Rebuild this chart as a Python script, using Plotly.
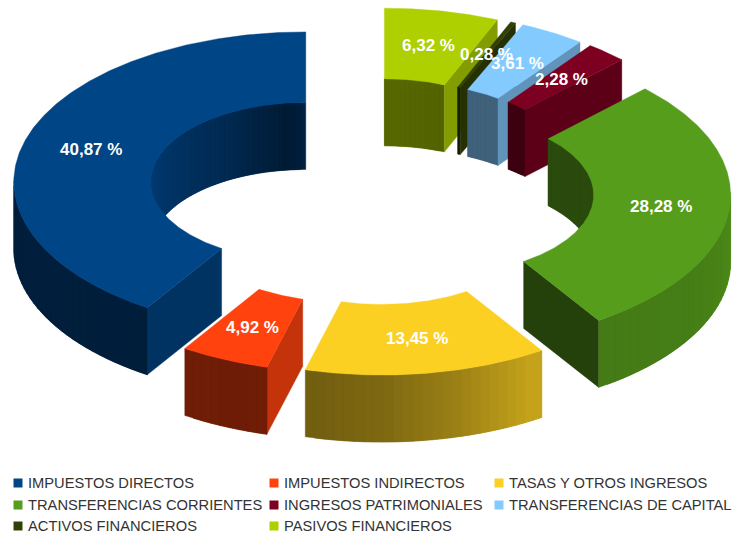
import numpy as np
import plotly.graph_objects as go

categories = ["IMPUESTOS DIRECTOS", "IMPUESTOS INDIRECTOS", "TASAS Y OTROS INGRESOS",
              "TRANSFERENCIAS CORRIENTES", "INGRESOS PATRIMONIALES", "TRANSFERENCIAS DE CAPITAL",
              "ACTIVOS FINANCIEROS", "PASIVOS FINANCIEROS"]
values = [40.87, 4.92, 13.45, 28.28, 2.28, 3.61, 0.28, 6.32]
labels = ["40,87 %", "4,92 %", "13,45 %", "28,28 %", "2,28 %", "3,61 %", "0,28 %", "6,32 %"]
colors = ["#004586", "#ff420e", "#fbd022", "#579d1c", "#7e0021", "#83caff", "#314004", "#aecf00"]

# projection of the exploded ring
CX, CY = 371, 191.5
RX, RY = 292, 150
IRX, IRY = 155, 79.4
EX, EY = 68, 34
DEPTH = 67
STEP = 2.0

# brightness of a wall by the direction it faces
outer_angle = [180, 250, 270, 285, 300, 330, 360]
outer_level = [0.46, 0.43, 0.50, 0.62, 0.78, 0.80, 0.88]
inner_angle = [180, 250, 270, 276, 300, 330, 360]
inner_level = [0.48, 0.48, 0.50, 0.38, 0.60, 0.75, 0.88]
END_FACE = 0.92


def shade(hex_color, normal, table, factor=1.0):
    k = float(np.interp(normal % 360, table[0], table[1])) * factor
    rgb = [int(hex_color[i:i + 2], 16) for i in (1, 3, 5)]
    return "rgb(%d,%d,%d)" % tuple(int(round(c * k)) for c in rgb)


fig = go.Figure()


def poly(xs, ys, color, lw=0.4):
    fig.add_trace(go.Scatter(x=list(xs) + [xs[0]], y=list(ys) + [ys[0]], mode="lines", fill="toself",
                             fillcolor=color, line=dict(color=color, width=lw),
                             hoverinfo="skip", showlegend=False))


total = sum(values)
slices = []
cum = 0.0
for v, c, lab in zip(values, colors, labels):
    a0 = 90 + cum / total * 360
    a1 = 90 + (cum + v) / total * 360
    mid = np.radians((a0 + a1) / 2)
    slices.append(dict(a0=a0, a1=a1, c=c, lab=lab,
                       cx=CX + EX * np.cos(mid), cy=CY - EY * np.sin(mid), mid=mid))
    cum += v


def pt(s, rx, ry, a):
    t = np.radians(a)
    return s["cx"] + rx * np.cos(t), s["cy"] - ry * np.sin(t)


def wall(s, rx, ry, a, b, normal, table):
    # each strip runs on under the next one so no seam shows between them
    b2 = min(b + STEP, s["a1"])
    arc = np.linspace(a, b2, 4)
    ax, ay = pt(s, rx, ry, arc)
    poly(np.concatenate([ax, ax[::-1]]).tolist(), np.concatenate([ay, ay[::-1] + DEPTH]).tolist(),
         shade(s["c"], normal, table))


OUTER = (outer_angle, outer_level)
INNER = (inner_angle, inner_level)

for s in sorted(slices, key=lambda q: q["cy"]):
    n = max(2, int(np.ceil((s["a1"] - s["a0"]) / STEP)))
    edges = np.linspace(s["a0"], s["a1"], n + 1)
    # inner wall: seen where it lies on the far half
    for a, b in zip(edges[:-1], edges[1:]):
        m = (a + b) / 2
        if np.sin(np.radians(m)) > 0:
            wall(s, IRX, IRY, a, b, m + 180, INNER)
    # radial end faces
    for ang, nrm in ((s["a0"], s["a0"] - 90), (s["a1"], s["a1"] + 90)):
        if np.sin(np.radians(nrm)) < -1e-6:
            xa, ya = pt(s, IRX, IRY, ang)
            xb, yb = pt(s, RX, RY, ang)
            poly([xa, xb, xb, xa], [ya, yb, yb + DEPTH, ya + DEPTH], shade(s["c"], nrm, OUTER, END_FACE))
    # outer wall: seen on the near half
    for a, b in zip(edges[:-1], edges[1:]):
        m = (a + b) / 2
        if np.sin(np.radians(m)) < 0:
            wall(s, RX, RY, a, b, m, OUTER)
    # top face
    fine = np.linspace(s["a0"], s["a1"], 4 * n + 1)
    ox, oy = pt(s, RX, RY, fine)
    ix, iy = pt(s, IRX, IRY, fine[::-1])
    poly(np.concatenate([ox, ix]).tolist(), np.concatenate([oy, iy]).tolist(), s["c"], 0.4)

# percentage labels, in slice order
for s in slices:
    x = s["cx"] + (RX + IRX) / 2 * np.cos(s["mid"])
    y = s["cy"] - (RY + IRY) / 2 * np.sin(s["mid"])
    fig.add_annotation(x=x, y=y, text=s["lab"], showarrow=False, xanchor="center", yanchor="middle",
                       font=dict(family="Liberation Sans", size=17, color="white", weight="bold"))

# legend
legend_x = [18, 274, 499]
legend_y = [483, 505, 526]
for i, (name, col) in enumerate(zip(categories, colors)):
    r, c = divmod(i, 3)
    fig.add_trace(go.Scatter(x=[legend_x[c]], y=[legend_y[r]], mode="markers", name=name,
                             marker=dict(symbol="square", size=9, color=col),
                             hoverinfo="skip", showlegend=False))
    fig.add_annotation(x=legend_x[c] + 7.5, y=legend_y[r], text=name, showarrow=False, xanchor="left",
                       yanchor="middle", font=dict(family="Liberation Sans", size=14.7, color="#333333"))

fig.update_layout(width=734, height=535, margin=dict(l=0, r=0, t=0, b=0), autosize=False,
                  paper_bgcolor="white", plot_bgcolor="white",
                  xaxis=dict(range=[0, 734], visible=False, fixedrange=True),
                  yaxis=dict(range=[535, 0], visible=False, fixedrange=True))
fig.write_html("out.html", config=dict(displayModeBar=False),
               post_script="document.body.style.margin='0';document.body.style.overflow='hidden';")
